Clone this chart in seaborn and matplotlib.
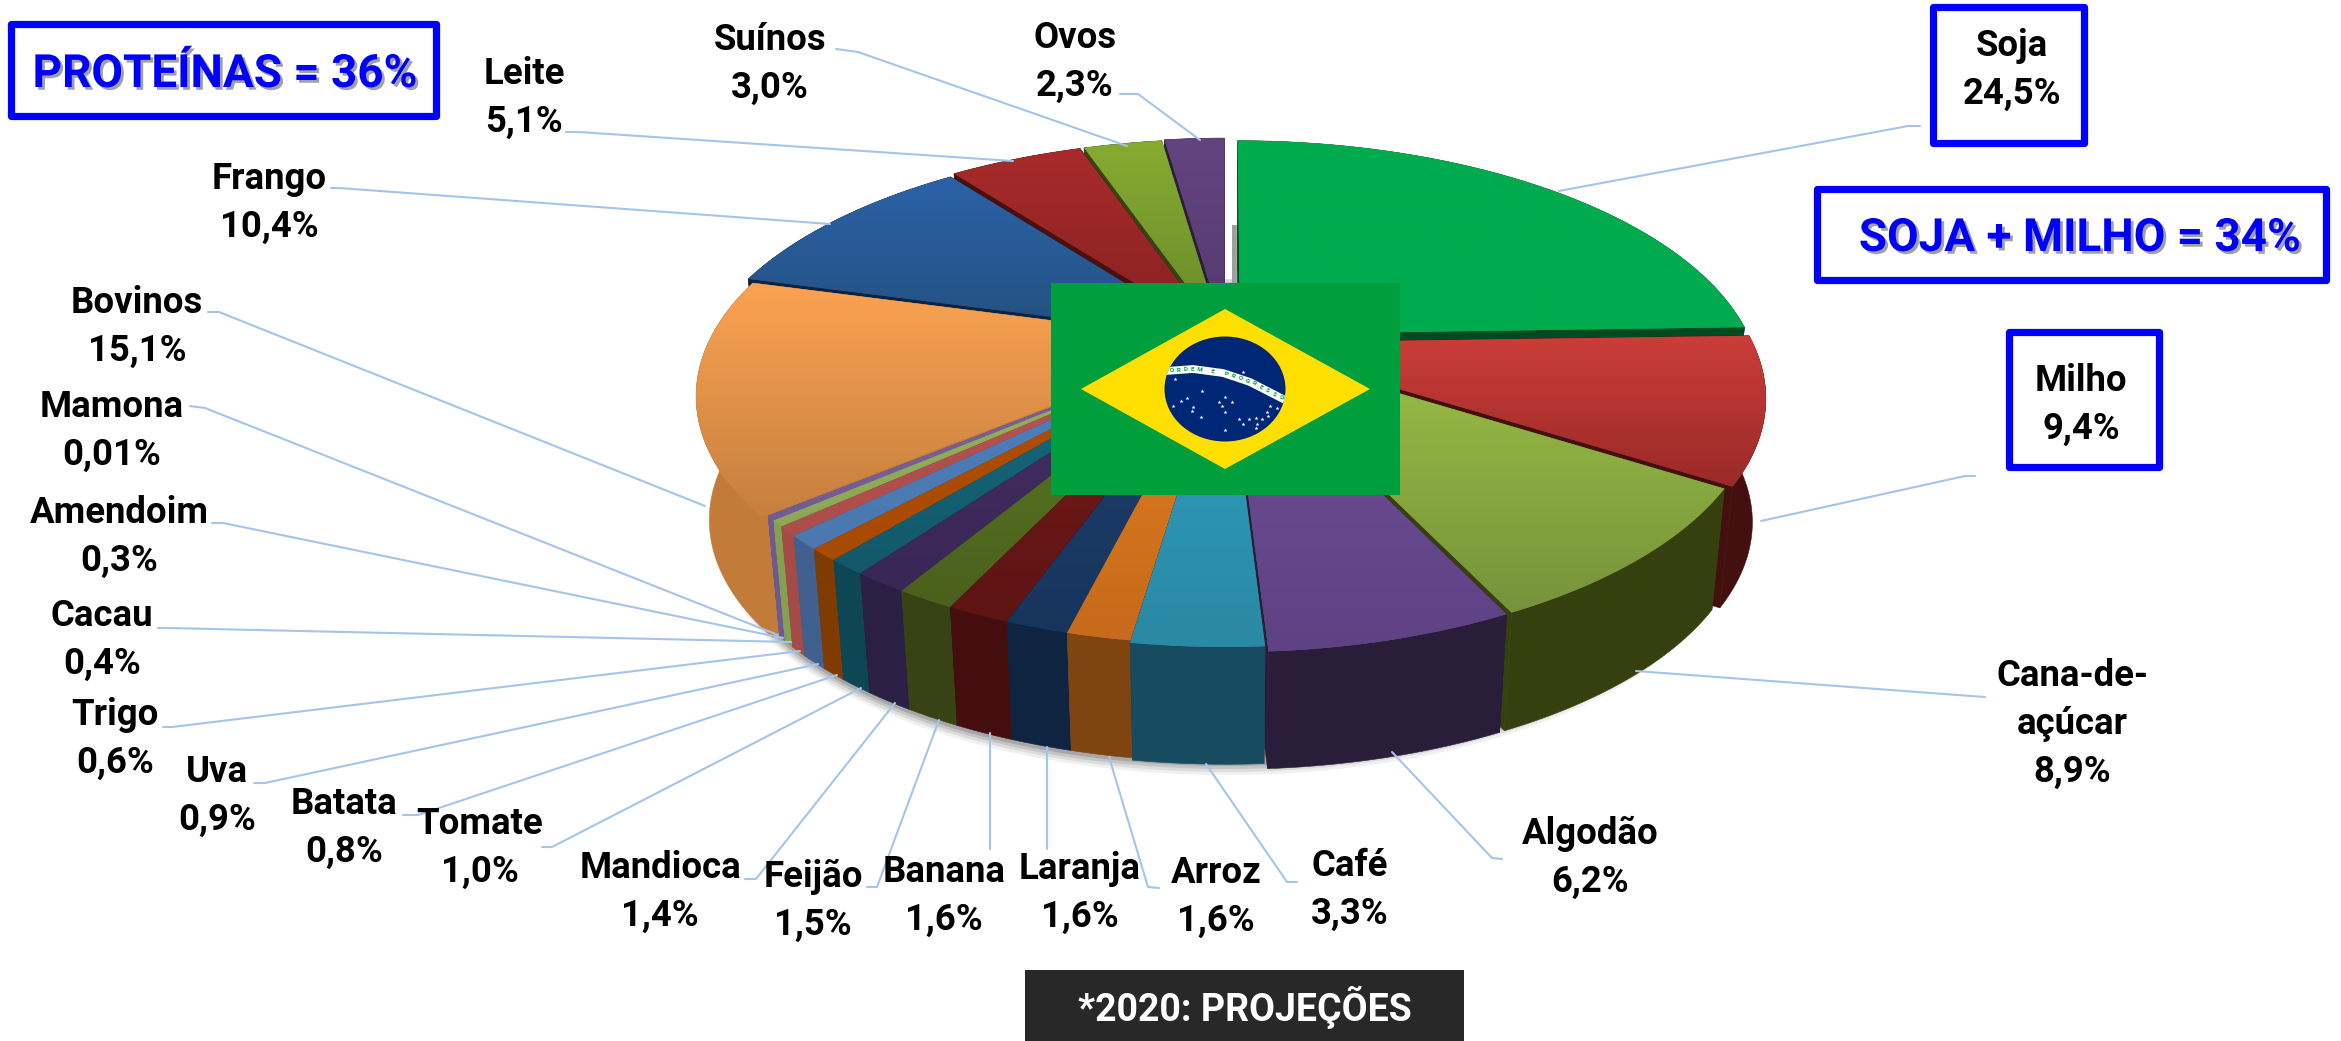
import numpy as np
import matplotlib
matplotlib.use("Agg")
import matplotlib.pyplot as plt
import matplotlib.patheffects as pe
import matplotlib.transforms as mtransforms
from matplotlib.patches import Polygon, Rectangle, Ellipse
import seaborn as sns

# ---------- data ----------
crops = ["Soja", "Milho", "Cana-de-\naçúcar", "Algodão", "Café", "Arroz", "Laranja", "Banana",
         "Feijão", "Mandioca", "Tomate", "Batata", "Uva", "Trigo", "Cacau", "Amendoim",
         "Mamona", "Bovinos", "Frango", "Leite", "Suínos", "Ovos"]
values = [24.5, 9.4, 8.9, 6.2, 3.3, 1.6, 1.6, 1.6, 1.5, 1.4, 1.0, 0.8, 0.9, 0.6, 0.4, 0.3,
          0.01, 15.1, 10.4, 5.1, 3.0, 2.3]
value_labels = ["24,5%", "9,4%", "8,9%", "6,2%", "3,3%", "1,6%", "1,6%", "1,6%", "1,5%", "1,4%",
                "1,0%", "0,8%", "0,9%", "0,6%", "0,4%", "0,3%", "0,01%", "15,1%", "10,4%",
                "5,1%", "3,0%", "2,3%"]
explode = [.04, .03, .02, .02, .006, 0, 0, 0, 0, 0, 0, 0, 0, 0, 0, 0, 0, .012, .03, .04, .04, .045]
top_light = ["#00AB4E", "#CB3D39", "#9ABF46", "#6E4E96", "#2F9FBF", "#E27D20", "#1E4272", "#761919",
             "#5C7C20", "#452F64", "#166C80", "#B25006", "#4F81BD", "#B85450", "#94B25A", "#7B62A0",
             "#7B62A0", "#FBA252", "#2B62A8", "#A82B2B", "#87AB31", "#64447F"]
top_dark = ["#00AB4E", "#9A2A28", "#76933A", "#5F4284", "#2A89A4", "#C66B1B", "#17345C", "#5F1414",
            "#4A601D", "#392756", "#12586A", "#A84A00", "#4A78AF", "#AC4E4B", "#8CA855", "#735C96",
            "#735C96", "#C6803F", "#24507F", "#872020", "#6A882A", "#553971"]
side_colors = ["#004A22", "#43100F", "#36400F", "#2A1D3A", "#174B5F", "#7E4412", "#0F2440", "#450E0E",
               "#384214", "#2C1F45", "#0F4655", "#803C00", "#40608F", "#A44A47", "#84A050", "#6D5A91",
               "#6D5A91", "#C27B38", "#0B2442", "#4A0F0F", "#36440F", "#2A1D3A"]

# label text centres (first line) and leader lines, in image pixels
label_xy = [(2012, 46), (2081, 381), (2072, 676), (1590, 834), (1350, 866), (1216, 873), (1080, 869),
            (944, 872), (813, 877), (660, 868), (480, 824), (344, 804), (217, 772), (115, 715),
            (102, 616), (119, 513), (112, 407), (137, 303), (269, 179), (524, 74), (770, 40), (1075, 38)]
leaders = [[(1920, 126), (1908, 126), (1559, 191)], [(1975, 476), (1965, 476), (1761, 521)],
           [(1985, 697), (1971, 696), (1636, 671)], [(1502, 859), (1492, 858), (1392, 752)],
           [(1297, 882), (1287, 882), (1206, 764)], [(1159, 888), (1148, 887), (1109, 757)],
           [(1047, 849), (1047, 747)], [(990, 849), (990, 733)],
           [(867, 887), (877, 887), (939, 720)], [(745, 879), (756, 879), (895, 703)],
           [(542, 847), (552, 847), (861, 688)], [(403, 815), (418, 815), (837, 675)],
           [(254, 783), (265, 783), (818, 664)], [(163, 727), (172, 727), (800, 651)],
           [(158, 628), (167, 628), (791, 642)], [(212, 523), (223, 523), (783, 638)],
           [(190, 406), (205, 408), (778, 635)], [(208, 312), (219, 312), (705, 506)],
           [(331, 188), (339, 188), (830, 224)], [(566, 132), (579, 132), (1013, 161)],
           [(836, 49), (858, 52), (1127, 146)], [(1120, 94), (1138, 94), (1200, 140)]]

# ---------- style ----------
sns.set_theme(style="white")
plt.rcParams["font.family"] = ["Roboto", "DejaVu Sans"]
palette = sns.color_palette(top_light)
W, H = 2341, 1041
fig = plt.figure(figsize=(W / 100, H / 100), dpi=100, facecolor="white")
ax = fig.add_axes([0, 0, 1, 1])

# ---------- perspective geometry of the pie ----------
CX, CY, RX, RY, P = 1226.0, 341.0, 511.0, 238.0, 0.216
DEPTH, SHRINK = 125.0, 0.975


def project(u, v):
    u, v = np.asarray(u, float), np.asarray(v, float)
    d = 1 + P * v
    return CX + RX * u / d, CY - RY * v / d


def project_bottom(u, v):
    x, y = project(u, v)
    return CX + SHRINK * (x - CX), CY + DEPTH + SHRINK * (y - CY)


class Perspective(mtransforms.Transform):
    input_dims = output_dims = 2
    has_inverse = False

    def transform_non_affine(self, values):
        x, y = project(values[:, 0], values[:, 1])
        return np.column_stack([x, y])


wedges, _ = ax.pie(values, explode=explode, startangle=90, counterclock=False, radius=1,
                   colors=palette, normalize=True)
ax.set_aspect("auto")
ax.set_xlim(0, W)
ax.set_ylim(H, 0)
ax.axis("off")
persp = Perspective() + ax.transData

# soft shadow under the body
ang = np.linspace(0, 2 * np.pi, 361)
for k, a in zip((13, 10, 7, 4), (.07, .10, .14, .2)):
    sx, sy = project_bottom(1.0 * np.cos(ang), 1.0 * np.sin(ang))
    ax.add_patch(Polygon(np.column_stack([sx, sy + k]), closed=True, fc="#333333", ec="none",
                         alpha=a, zorder=1))

# grey wall seen in the gap between Ovos and Soja
ax.imshow(np.array([[.62, .8, .55]]), extent=(1232, 1250, 283, 225), cmap="gray", vmin=0, vmax=1,
          aspect="auto", zorder=2, interpolation="bilinear")


def rgb(c):
    return np.array(matplotlib.colors.to_rgb(c))


order = sorted(range(len(values)),
               key=lambda i: -np.sin(np.radians((wedges[i].theta1 + wedges[i].theta2) / 2)))
z = 3
for i in order:
    w = wedges[i]
    c0 = np.array(w.center)
    th = np.radians(np.linspace(w.theta1, w.theta2, 60))
    u = c0[0] + w.r * np.cos(th)
    v = c0[1] + w.r * np.sin(th)
    tx, ty = project(u, v)
    bx, by = project_bottom(u, v)
    ax_, ay_ = project(c0[0], c0[1])
    bax, bay = project_bottom(c0[0], c0[1])
    side = side_colors[i]
    # radial walls
    for j in (0, -1):
        ax.add_patch(Polygon([(ax_, ay_), (tx[j], ty[j]), (bx[j], by[j]), (bax, bay)], closed=True,
                             fc=side, ec=side, lw=.4, zorder=z))
    # rim wall
    ax.add_patch(Polygon(np.vstack([np.column_stack([tx, ty]), np.column_stack([bx, by])[::-1]]),
                         closed=True, fc=side, ec=side, lw=.4, zorder=z + .1))
    # top face with a vertical gradient
    w.set_transform(persp)
    w.set_facecolor(top_dark[i])
    w.set_edgecolor("none")
    w.set_zorder(z + .2)
    xs, ys = np.r_[ax_, tx], np.r_[ay_, ty]
    grad = np.linspace(0, 1, 64)[:, None, None]
    img = (1 - grad) * rgb(top_light[i]) + grad * rgb(top_dark[i])
    im = ax.imshow(img, extent=(xs.min(), xs.max(), ys.max(), ys.min()), aspect="auto",
                   zorder=z + .3, interpolation="bilinear")
    clip = Polygon(np.column_stack([xs, ys]), closed=True, transform=ax.transData)
    im.set_clip_path(clip)
    z += 1
ax.set_xlim(0, W)
ax.set_ylim(H, 0)

# ---------- leader lines ----------
LINE = "#A4C4EC"
for pts in leaders:
    p = np.array(pts)
    ax.plot(p[:, 0], p[:, 1], color=LINE, lw=1.5, zorder=z + 1, solid_capstyle="round")
z += 2

# ---------- labels ----------
FS = 26.3
LS = 48
for name, val, (x, y) in zip(crops, value_labels, label_xy):
    lines = name.split("\n") + [val]
    for k, t in enumerate(lines):
        ax.text(x, y + k * LS, t, ha="center", va="center", fontsize=FS, fontweight="bold",
                color="black", zorder=z)


# ---------- boxes ----------
def box(x0, y0, x1, y1, lw=5.2):
    ax.add_patch(Rectangle((x0, y0), x1 - x0, y1 - y0, fc="none", ec="#0000FF", lw=lw,
                           joinstyle="round", zorder=z))


box(11, 24, 436, 116)
box(1933, 7, 2084, 143)
box(1817, 189, 2326, 280)
box(2009, 332, 2159, 467)
shadow = [pe.withSimplePatchShadow(offset=(2, -2), shadow_rgbFace="#555555", alpha=.55)]
for t, x, y in (("PROTEÍNAS = 36%", 225, 74), ("SOJA + MILHO = 34%", 2080, 238)):
    ax.text(x, y, t, ha="center", va="center", fontsize=33, fontweight="bold", color="#0000FF",
            path_effects=shadow, zorder=z)

ax.add_patch(Rectangle((1025, 970), 439, 71, fc="#282828", ec="none", zorder=z))
ax.text(1245, 1007, "*2020: PROJEÇÕES", ha="center", va="center", fontsize=27, fontweight="bold",
        color="white", zorder=z + 1)

# ---------- flag ----------
z += 2
ax.add_patch(Rectangle((1051, 283), 349, 212, fc="#009E3D", ec="none", zorder=z))
ax.add_patch(Polygon([(1081, 389), (1225, 309), (1370, 389), (1225, 469)], closed=True,
                     fc="#FFDF00", ec="none", zorder=z + 1))
globe = Ellipse((1225, 389), 121, 105, fc="#002776", ec="none", zorder=z + 2)
ax.add_patch(globe)
bx_ = np.array([1166, 1193, 1223, 1250, 1285])
by_ = np.array([371, 369, 373, 382, 400])
cvx = np.linspace(bx_[0], bx_[-1], 50)
cvy = np.interp(cvx, bx_, by_)
band, = ax.plot(cvx, cvy, color="white", lw=5.6, zorder=z + 3, solid_capstyle="butt")
band.set_clip_path(Ellipse((1225, 389), 121, 105, transform=ax.transData))
motto = "ORDEM E PROGRESSO"
mx = np.linspace(1172, 1281, len(motto))
my = np.interp(mx, bx_, by_)
mr = -np.degrees(np.arctan(np.gradient(my, mx)))
for ch, x, y, r in zip(motto, mx, my, mr):
    ax.text(x, y, ch, fontsize=4.6, fontweight="bold", color="#009E3D", ha="center", va="center",
            rotation=r, zorder=z + 4)
star_x = [1175, 1243, 1202, 1173, 1181, 1187, 1193, 1201, 1219, 1225, 1232, 1222, 1225, 1239,
          1243, 1249, 1256, 1257, 1256, 1268, 1270, 1277, 1267, 1192, 1262, 1225]
star_y = [379, 372, 391, 406, 401, 398, 407, 417, 402, 397, 402, 406, 412, 419, 424, 419, 418,
          424, 428, 416, 406, 408, 412, 411, 419, 430]
ax.scatter(star_x, star_y, s=9, marker="*", color="white", linewidths=0, zorder=z + 4)

ax.set_xlim(0, W)
ax.set_ylim(H, 0)
fig.savefig("out.png", dpi=100, facecolor="white")
